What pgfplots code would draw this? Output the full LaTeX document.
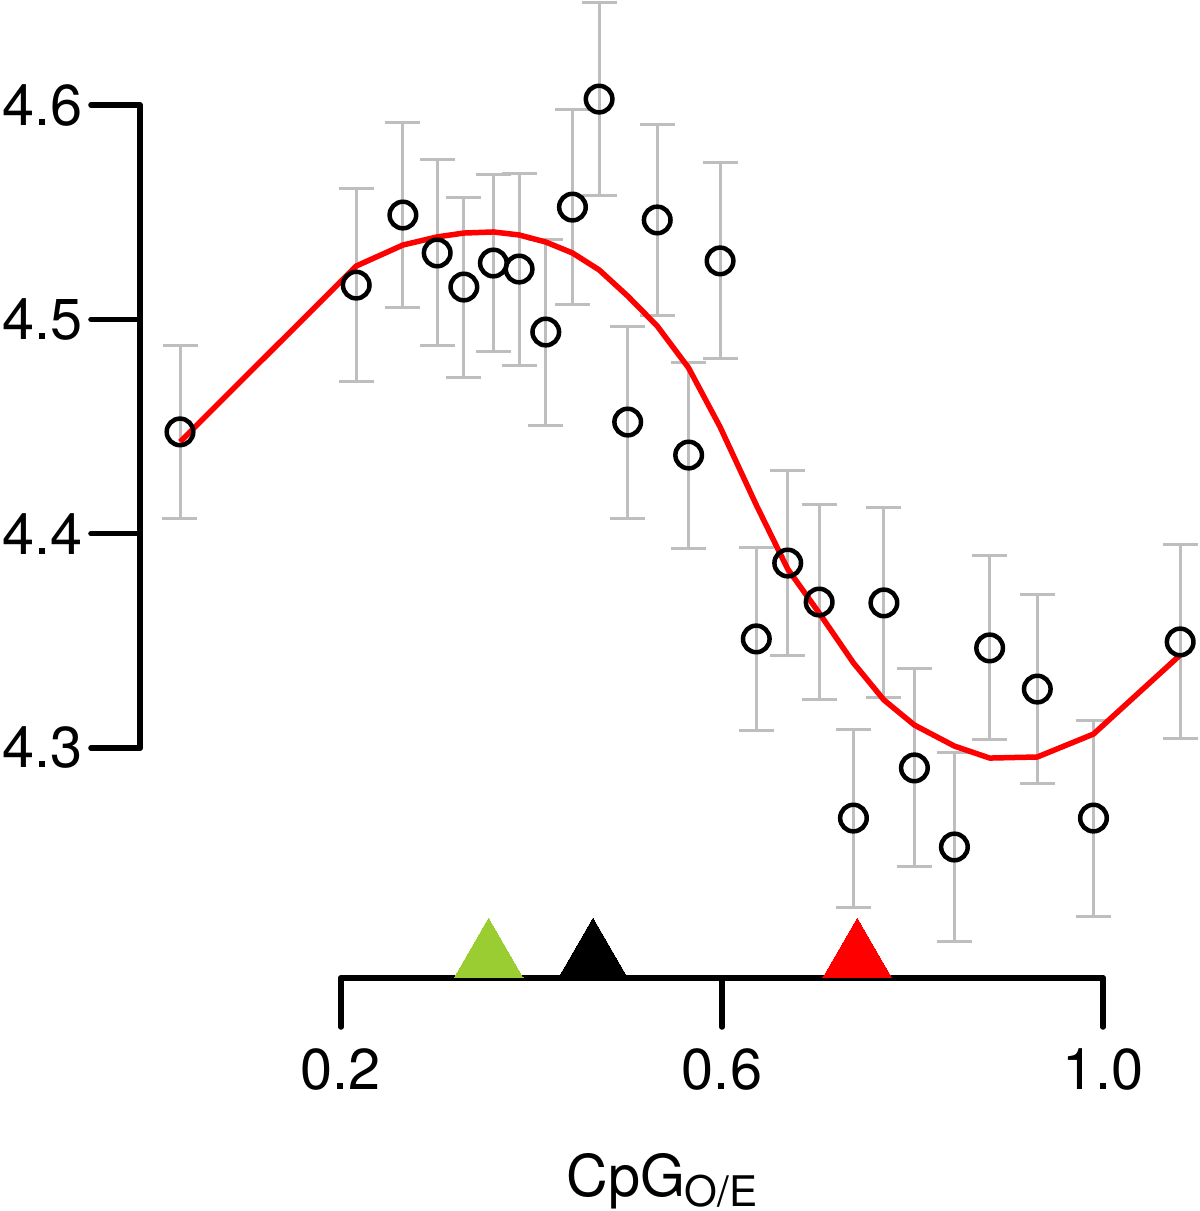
\documentclass[border=0pt]{standalone}
\usepackage{pgfplots}
\pgfplotsset{compat=1.18}
\usepackage{pgfplotstable}
\usepackage{fontspec}
\setmainfont{TeX Gyre Heros}
\definecolor{ygreen}{RGB}{154,205,50}
\definecolor{ebgray}{RGB}{190,190,190}

\pgfplotstableread{
x y err
0.031 4.4475 0.0402
0.216 4.5160 0.0450
0.265 4.5487 0.0432
0.301 4.5310 0.0434
0.329 4.5151 0.0420
0.360 4.5263 0.0413
0.387 4.5235 0.0448
0.415 4.4941 0.0434
0.443 4.5524 0.0455
0.471 4.6028 0.0450
0.501 4.4521 0.0448
0.532 4.5464 0.0446
0.565 4.4367 0.0434
0.598 4.5273 0.0457
0.636 4.3509 0.0427
0.669 4.3863 0.0432
0.702 4.3681 0.0455
0.738 4.2673 0.0415
0.770 4.3677 0.0443
0.802 4.2907 0.0462
0.844 4.2538 0.0441
0.881 4.3467 0.0429
0.931 4.3275 0.0439
0.990 4.2673 0.0457
1.081 4.3495 0.0453
}\pts

\pgfplotstableread{
x y
0.031 4.4428
0.216 4.5249
0.265 4.5347
0.301 4.5385
0.329 4.5403
0.360 4.5408
0.387 4.5394
0.415 4.5361
0.443 4.5310
0.471 4.5231
0.501 4.5109
0.532 4.4969
0.565 4.4773
0.598 4.4498
0.636 4.4134
0.669 4.3835
0.702 4.3630
0.738 4.3397
0.770 4.3224
0.802 4.3107
0.844 4.3009
0.881 4.2953
0.931 4.2958
0.990 4.3065
1.081 4.3434
}\fit

\begin{document}
\begin{tikzpicture}
\begin{axis}[
  scale only axis,
  width=10.58cm, height=9.78cm,
  xmin=-0.011, xmax=1.0997,
  ymin=4.19267, ymax=4.64904,
  axis lines*=left,
  axis line style={draw=none,-},
  clip=false,
  tick align=outside,
  major tick length=4.9mm,
  every tick/.style={black, line width=0.55mm, line cap=round},
  xtick={0.2,0.6,1.0}, xticklabels={0.2,0.6,1.0},
  ytick={4.3,4.4,4.5,4.6}, yticklabels={4.3,4.4,4.5,4.6},
  minor tick num=0,
  tick label style={font=\fontsize{16.4}{19}\selectfont, inner sep=0pt},
  yticklabel style={anchor=east, xshift=-0.8mm},
  xticklabel style={anchor=north, yshift=-2.1mm},
  xlabel={CpG\raisebox{-1.1mm}{\fontsize{12}{14}\selectfont O/E}},
  xlabel style={at={(axis description cs:0.4934,-0.2229)}, anchor=base, inner sep=0pt, font=\fontsize{16.4}{19}\selectfont},
]
% spines
\draw[line width=0.55mm, line cap=round] (axis cs:-0.011,4.3) -- (axis cs:-0.011,4.6);
\draw[line width=0.55mm, line cap=round] (axis cs:0.2,4.19267) -- (axis cs:1.0,4.19267);
% points with error bars
\addplot[only marks, mark=o, mark size=1.33mm, mark options={line width=0.45mm, black},
  error bars/.cd, y dir=both, y explicit,
  error bar style={ebgray, line width=0.3mm},
  error mark options={ebgray, line width=0.3mm, mark size=1.75mm, rotate=90}]
  table[x=x, y=y, y error=err] {\pts};
% fitted curve
\addplot[red, line width=0.55mm, line join=round, mark=none] table[x=x, y=y] {\fit};
% triangles
\addplot[ygreen, only marks, mark=triangle*, mark size=3.98mm, mark options={draw=ygreen, fill=ygreen, line width=0pt}] coordinates {(0.355,4.202)};
\addplot[black, only marks, mark=triangle*, mark size=3.98mm, mark options={draw=black, fill=black, line width=0pt}] coordinates {(0.4646,4.202)};
\addplot[red, only marks, mark=triangle*, mark size=3.98mm, mark options={draw=red, fill=red, line width=0pt}] coordinates {(0.742,4.202)};
\end{axis}
\pgfresetboundingbox
\path (-1.40cm,-2.33cm) rectangle (10.60cm,9.78cm);
\end{tikzpicture}
\end{document}
